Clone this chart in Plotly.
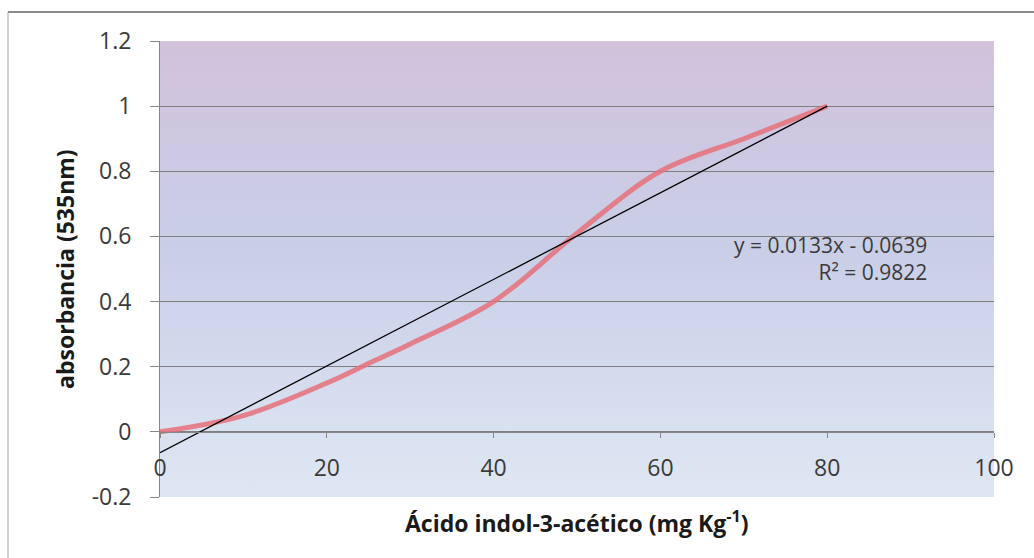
import base64
import plotly.graph_objects as go

# Calibration data: indole-3-acetic acid concentration vs absorbance at 535 nm
concentration = [0, 10, 20, 25, 30, 40, 50, 60, 70, 80]
absorbance = [0.0, 0.05, 0.15, 0.21, 0.27, 0.40, 0.61, 0.80, 0.90, 1.0]

# Linear trendline as reported on the chart
slope = 0.0133
intercept = -0.0639
r_squared = 0.9822
trend_x = [0, 80]
trend_y = [slope * x + intercept for x in trend_x]

x_ticks = [0, 20, 40, 60, 80, 100]
x_tick_text = ["0", "20", "40", "60", "80", "100"]
y_ticks = [-0.2, 0, 0.2, 0.4, 0.6, 0.8, 1.0, 1.2]
y_tick_text = ["-0.2", "0", "0.2", "0.4", "0.6", "0.8", "1", "1.2"]

FONT = "Open Sans"
TEXT_GRAY = "#3a3a3a"
AXIS_GRAY = "#868686"

# Vertical gradient used as the plot-area fill
gradient_svg = (
    '<svg xmlns="http://www.w3.org/2000/svg" width="100" height="100" '
    'viewBox="0 0 100 100" preserveAspectRatio="none">'
    '<defs><linearGradient id="g" x1="0" y1="0" x2="0" y2="1">'
    '<stop offset="0" stop-color="#d2c2dc"/>'
    '<stop offset="0.45" stop-color="#c9cee7"/>'
    '<stop offset="1" stop-color="#dfe7f3"/>'
    '</linearGradient></defs>'
    '<rect width="100" height="100" fill="url(#g)"/></svg>'
)
gradient_src = "data:image/svg+xml;base64," + base64.b64encode(gradient_svg.encode()).decode()

fig = go.Figure()

fig.add_trace(go.Scatter(
    x=concentration, y=absorbance, mode="lines",
    line=dict(color="rgba(230,112,122,0.85)", width=5, shape="spline", smoothing=1.0),
    showlegend=False, hoverinfo="x+y",
))

fig.add_trace(go.Scatter(
    x=trend_x, y=trend_y, mode="lines",
    line=dict(color="#000000", width=1.3),
    showlegend=False, hoverinfo="skip",
))

fig.update_layout(
    width=1034, height=558,
    margin=dict(l=160, r=40, t=41, b=61),
    paper_bgcolor="white",
    plot_bgcolor="rgba(0,0,0,0)",
    font=dict(family=FONT, color=TEXT_GRAY),
    images=[dict(
        source=gradient_src, xref="paper", yref="paper",
        x=0, y=1, sizex=1, sizey=1, sizing="stretch",
        xanchor="left", yanchor="top", layer="below",
    )],
    xaxis=dict(
        range=[0, 100], tickvals=x_ticks, ticktext=x_tick_text,
        anchor="free", position=0.2 / 1.4,
        showline=True, linecolor=AXIS_GRAY, linewidth=1,
        ticks="outside", ticklen=5, tickcolor=AXIS_GRAY,
        showgrid=False, zeroline=False,
        tickfont=dict(family=FONT, size=23, color=TEXT_GRAY),
        ticklabelstandoff=11,
    ),
    yaxis=dict(
        range=[-0.2, 1.2], tickvals=y_ticks, ticktext=y_tick_text,
        showline=True, linecolor=AXIS_GRAY, linewidth=1,
        ticks="outside", ticklen=9, tickcolor=AXIS_GRAY,
        showgrid=True, gridcolor="#7f7f7f", gridwidth=1,
        zeroline=False,
        tickfont=dict(family=FONT, size=23, color=TEXT_GRAY),
        ticklabelstandoff=14,
    ),
    annotations=[
        dict(
            text="Ácido indol-3-acético (mg Kg<sup>-1</sup>)",
            xref="paper", yref="paper", x=0.5, y=-0.055,
            xanchor="center", yanchor="middle", showarrow=False,
            font=dict(family=FONT, size=23, color="#1a1a1a", weight="bold"),
        ),
        dict(
            text="absorbancia (535nm)",
            xref="paper", yref="paper", x=-0.114, y=0.5, textangle=-90,
            xanchor="center", yanchor="middle", showarrow=False,
            font=dict(family=FONT, size=23, color="#1a1a1a", weight="bold"),
        ),
        dict(
            text=f"y = {slope}x - {abs(intercept)}<br>R² = {r_squared}",
            xref="x", yref="y", x=92.2, y=0.533,
            xanchor="right", yanchor="middle", align="right", showarrow=False,
            font=dict(family=FONT, size=21, color=TEXT_GRAY),
        ),
    ],
    shapes=[
        # chart frame: top and left edges
        dict(type="line", xref="paper", yref="paper",
             x0=(8 - 160) / 834, x1=1.1, y0=(497 - 12) / 456, y1=(497 - 12) / 456,
             line=dict(color="#8a8a8a", width=2)),
        dict(type="line", xref="paper", yref="paper",
             x0=(8 - 160) / 834, x1=(8 - 160) / 834, y0=(497 - 12) / 456, y1=-0.3,
             line=dict(color="#a6a6a6", width=1)),
    ],
)

fig.write_html("out.html")
